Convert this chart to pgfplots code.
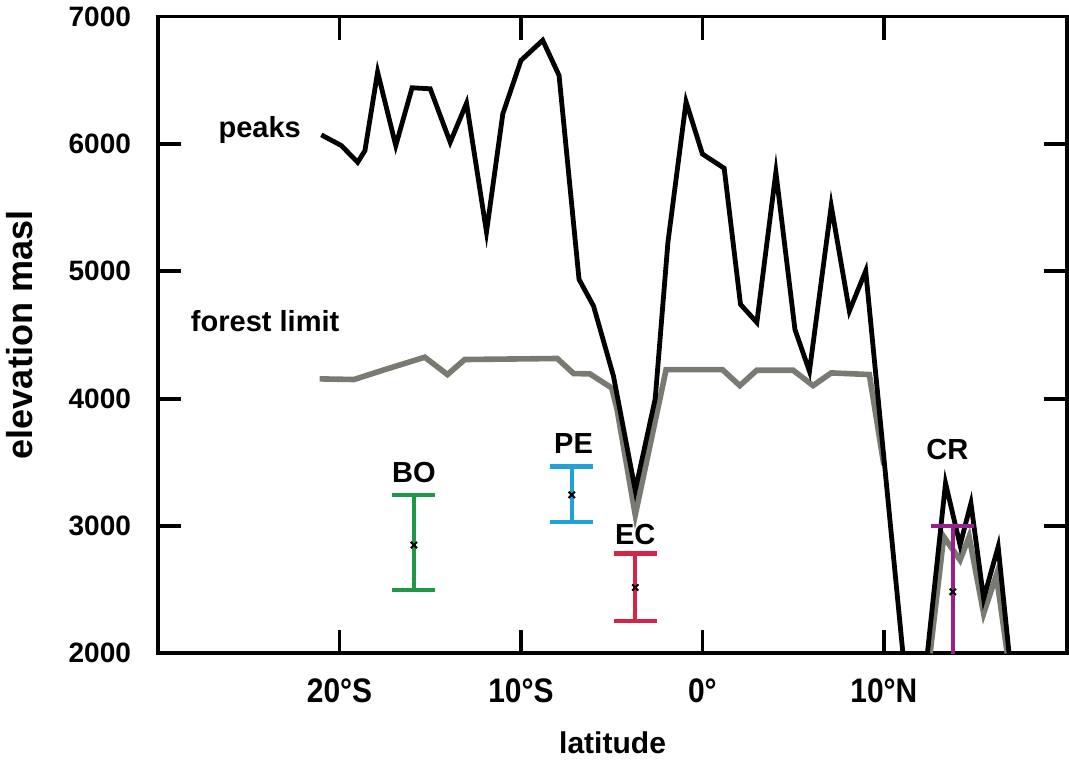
\documentclass[border=0pt]{standalone}
\usepackage{fontspec}
\setmainfont{Liberation Sans}
\usepackage{pgfplots}
\pgfplotsset{compat=1.18}
\definecolor{fgrey}{RGB}{120,123,114}
\definecolor{bogreen}{RGB}{30,152,72}
\definecolor{pecyan}{RGB}{32,162,216}
\definecolor{ecred}{RGB}{214,36,72}
\definecolor{crpurple}{RGB}{150,32,140}
\begin{document}
\begin{tikzpicture}
\begin{axis}[
  scale only axis, width=454pt, height=318pt,
  xmin=-30, xmax=20.1, ymin=2000, ymax=7000,
  axis line style={line width=1.9pt},
  every tick/.style={black, line width=1.9pt},
  major tick length=11.5pt,
  tick align=inside,
  xtick={-20,-10,0,10},
  xticklabels={\scalebox{0.88}[1]{20°S},\scalebox{0.88}[1]{10°S},\scalebox{0.88}[1]{0°},\scalebox{0.88}[1]{10°N}},
  ytick={2000,3000,4000,5000,6000,7000},
  /pgf/number format/assume math mode=true,
  /pgf/number format/1000 sep={},
  scaled y ticks=false,
  yticklabel style={font=\fontsize{14}{16}\selectfont\bfseries, xshift=-10pt},
  xticklabel style={font=\fontsize{17}{19}\selectfont\bfseries, yshift=-9pt},
  xlabel={latitude}, ylabel={elevation masl},
  xlabel style={font=\fontsize{15}{18}\selectfont\bfseries, at={(axis description cs:0.5,-0.14)}, anchor=center},
  ylabel style={font=\fontsize{18}{20}\selectfont\bfseries, at={(axis description cs:-0.152,0.5)}, anchor=center},
]
% forest limit
\addplot[fgrey, line width=2.8pt] coordinates {
(-21.1,4155) (-19.2,4150) (-17.5,4228) (-15.3,4325) (-14.05,4189) (-13.1,4307)
(-8.0,4315) (-7.1,4197) (-6.2,4194) (-5.0,4084) (-4.7,3913) (-3.7,3087)
(-2.0,4228) (1.1,4228) (2.06,4102) (3.0,4223) (5.0,4223) (6.1,4102)
(7.1,4202) (9.2,4189) (10.0,3480)};
\addplot[fgrey, line width=2.8pt] coordinates {
(12.55,2000) (13.3,2916) (14.2,2732) (14.7,2916) (15.5,2313) (16.2,2614) (16.8,2000)};
% peaks
\addplot[black, line width=2.4pt] coordinates {
(-21.0,6071) (-19.9,5987) (-19.0,5856) (-18.6,5947) (-17.9,6564) (-16.9,5987)
(-16.0,6441) (-15.0,6433) (-13.9,6013) (-13.0,6320) (-11.9,5309) (-11.0,6236)
(-10.0,6656) (-8.8,6814) (-7.9,6538) (-6.8,4937) (-6.0,4727) (-4.9,4176)
(-3.7,3280) (-2.6,4000) (-1.9,5228) (-0.9,6331) (0.0,5921) (1.2,5809)
(2.1,4740) (3.0,4598) (4.05,5778) (5.1,4543) (5.9,4215) (7.1,5514)
(8.1,4688) (9.0,5003) (11.05,2000)};
\addplot[black, line width=2.4pt] coordinates {
(12.4,2000) (13.4,3336) (14.2,2850) (14.8,3178) (15.5,2430) (16.3,2837) (16.9,2000)};
% ranges
\addplot[bogreen, mark=x, mark options={black, line width=1pt, mark size=2.2pt},
  error bars/.cd, y dir=both, y explicit,
  error bar style={bogreen, line width=2.2pt},
  error mark options={rotate=90, bogreen, line width=2.2pt, mark size=10.75pt}]
  coordinates {(-15.9,2850) += (0,394) -= (0,354)};
\addplot[pecyan, mark=x, mark options={black, line width=1pt, mark size=2.2pt},
  error bars/.cd, y dir=both, y explicit,
  error bar style={pecyan, line width=2.2pt},
  error mark options={rotate=90, pecyan, line width=2.2pt, mark size=10.75pt}]
  coordinates {(-7.2,3244) += (0,223) -= (0,215)};
\addplot[ecred, mark=x, mark options={black, line width=1pt, mark size=2.2pt},
  error bars/.cd, y dir=both, y explicit,
  error bar style={ecred, line width=2.2pt},
  error mark options={rotate=90, ecred, line width=2.2pt, mark size=10.75pt}]
  coordinates {(-3.7,2517) += (0,268) -= (0,263)};
\addplot[crpurple, mark=x, mark options={black, line width=1pt, mark size=2.2pt},
  error bars/.cd, y dir=both, y explicit,
  error bar style={crpurple, line width=2.2pt},
  error mark options={rotate=90, crpurple, line width=2.2pt, mark size=10.75pt}]
  coordinates {(13.8,2483) += (0,517) -= (0,1000)};
% labels
\node[font=\fontsize{14.5}{17}\selectfont\bfseries] at (axis cs:-24.4,6110) {peaks};
\node[font=\fontsize{14.5}{17}\selectfont\bfseries] at (axis cs:-24.1,4606) {forest limit};
\node[font=\fontsize{14.5}{17}\selectfont\bfseries] at (axis cs:-15.9,3417) {BO};
\node[font=\fontsize{14.5}{17}\selectfont\bfseries] at (axis cs:-7.1,3646) {PE};
\node[font=\fontsize{14.5}{17}\selectfont\bfseries] at (axis cs:-3.7,2929) {EC};
\node[font=\fontsize{14.5}{17}\selectfont\bfseries] at (axis cs:13.5,3598) {CR};
\end{axis}
\end{tikzpicture}
\end{document}
